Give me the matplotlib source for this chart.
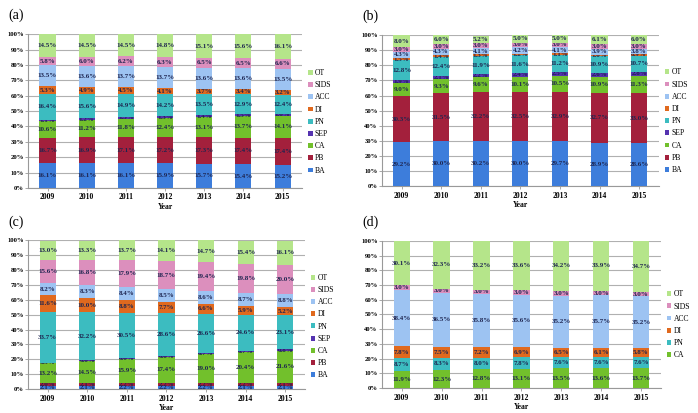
import numpy as np
import matplotlib
matplotlib.use('Agg')
import matplotlib.pyplot as plt
from matplotlib.ticker import FuncFormatter

plt.rcParams['font.family'] = ['Liberation Serif', 'DejaVu Serif']

years = ['2009', '2010', '2011', '2012', '2013', '2014', '2015']

colors = {
    'BA': '#3d7ddb', 'PB': '#a3203c', 'CA': '#72c02c', 'SEP': '#5533b0',
    'PN': '#3cbcc0', 'DI': '#e0691e', 'ACC': '#9dc3f2', 'SIDS': '#dc8fbd',
    'OT': '#b5e58a',
}

# (a)
a_BA = [16.1, 16.1, 16.1, 15.9, 15.7, 15.4, 15.2]
a_PB = [16.7, 16.9, 17.1, 17.2, 17.3, 17.4, 17.4]
a_CA = [10.6, 11.2, 11.8, 12.4, 13.1, 13.7, 14.1]
a_SEP = [1.1, 1.2, 1.3, 1.3, 1.4, 1.5, 1.6]
a_PN = [16.4, 15.6, 14.9, 14.2, 13.5, 12.9, 12.4]
a_DI = [5.3, 4.9, 4.5, 4.1, 3.7, 3.4, 3.2]
a_ACC = [13.5, 13.6, 13.7, 13.7, 13.6, 13.6, 13.5]
a_SIDS = [5.8, 6.0, 6.2, 6.3, 6.5, 6.5, 6.6]
a_OT = [14.5, 14.5, 14.5, 14.8, 15.1, 15.6, 16.1]

# (b)
b_BA = [29.2, 30.0, 30.2, 30.0, 29.7, 28.9, 28.6]
b_PB = [30.3, 31.5, 32.2, 32.5, 32.9, 32.7, 33.0]
b_CA = [9.0, 9.3, 9.6, 10.1, 10.5, 10.9, 11.3]
b_SEP = [1.9, 2.1, 2.2, 2.4, 2.5, 2.6, 2.8]
b_PN = [12.8, 12.4, 11.9, 11.6, 11.2, 10.9, 10.7]
b_DI = [1.5, 1.4, 1.3, 1.2, 1.1, 1.0, 0.9]
b_ACC = [4.3, 4.3, 4.1, 4.2, 4.1, 3.9, 3.8]
b_SIDS = [3.0, 3.0, 3.0, 3.0, 3.0, 3.0, 3.0]
b_OT = [8.0, 6.0, 5.2, 5.0, 5.0, 6.1, 6.0]

# (c)
c_BA = [2.1, 2.1, 2.2, 2.2, 2.2, 2.1, 2.1]
c_PB = [2.0, 2.1, 2.2, 2.2, 2.2, 2.2, 2.1]
c_CA = [13.2, 14.5, 15.9, 17.4, 19.0, 20.4, 21.6]
c_SEP = [0.5, 0.6, 0.6, 0.6, 0.7, 0.7, 0.8]
c_PN = [33.7, 32.2, 30.5, 28.6, 26.6, 24.6, 23.1]
c_DI = [11.6, 10.0, 8.8, 7.7, 6.6, 5.9, 5.2]
c_ACC = [8.2, 8.3, 8.4, 8.5, 8.6, 8.7, 8.8]
c_SIDS = [15.6, 16.8, 17.9, 18.7, 19.4, 19.8, 20.0]
c_OT = [13.0, 13.3, 13.7, 14.1, 14.7, 15.4, 16.1]

# (d)
d_CA = [11.9, 12.3, 12.8, 13.1, 13.5, 13.6, 13.7]
d_PN = [8.7, 8.3, 8.0, 7.8, 7.6, 7.6, 7.6]
d_DI = [7.8, 7.5, 7.2, 6.9, 6.5, 6.1, 5.8]
d_ACC = [38.4, 36.5, 35.8, 35.6, 35.2, 35.7, 35.2]
d_SIDS = [3.0, 3.0, 3.0, 3.0, 3.0, 3.0, 3.0]
d_OT = [30.1, 32.3, 33.2, 33.6, 34.2, 33.9, 34.7]

panels = [
    ('(a)', [0.040, 0.545, 0.393, 0.372], 0.43,
     [('BA', a_BA), ('PB', a_PB), ('CA', a_CA), ('SEP', a_SEP), ('PN', a_PN),
      ('DI', a_DI), ('ACC', a_ACC), ('SIDS', a_SIDS), ('OT', a_OT)]),
    ('(b)', [0.547, 0.549, 0.397, 0.366], 0.43,
     [('BA', b_BA), ('PB', b_PB), ('CA', b_CA), ('SEP', b_SEP), ('PN', b_PN),
      ('DI', b_DI), ('ACC', b_ACC), ('SIDS', b_SIDS), ('OT', b_OT)]),
    ('(c)', [0.040, 0.058, 0.397, 0.360], 0.42,
     [('BA', c_BA), ('PB', c_PB), ('CA', c_CA), ('SEP', c_SEP), ('PN', c_PN),
      ('DI', c_DI), ('ACC', c_ACC), ('SIDS', c_SIDS), ('OT', c_OT)]),
    ('(d)', [0.547, 0.060, 0.400, 0.357], 0.43,
     [('CA', d_CA), ('PN', d_PN), ('DI', d_DI), ('ACC', d_ACC),
      ('SIDS', d_SIDS), ('OT', d_OT)]),
]

fig = plt.figure(figsize=(6.98, 4.13), dpi=100)
fig.patch.set_facecolor('white')

x = np.arange(len(years))
for tag, rect, leg_y, series in panels:
    ax = fig.add_axes(rect)
    bottom = np.zeros(len(years))
    for name, vals in series:
        vals = np.array(vals)
        bars = ax.bar(x, vals, 0.41, bottom=bottom, color=colors[name],
                      label=name, zorder=3)
        ax.bar_label(bars, labels=[f'{v:.1f}%' for v in vals], label_type='center',
                     fontsize=5, fontweight='bold', color='#1e2550')
        bottom += vals

    ax.set_xlim(-0.5, 6.5)
    ax.set_ylim(0, 100)
    ax.set_yticks(np.arange(0, 101, 10))
    ax.yaxis.set_major_formatter(FuncFormatter(lambda v, p: f'{int(v)}%'))
    ax.set_xticks(x)
    ax.set_xticklabels(years)
    ax.grid(axis='y', color='#b0b0b0', linewidth=0.8, zorder=0)
    for s in ['top', 'right']:
        ax.spines[s].set_visible(False)
    for s in ['left', 'bottom']:
        ax.spines[s].set_color('#999999')
        ax.spines[s].set_linewidth(0.8)
    ax.tick_params(axis='y', labelsize=4.8, length=2, width=0.6, color='#999999', pad=1)
    ax.tick_params(axis='x', labelsize=5.5, length=2, width=0.6, color='#999999', pad=2)
    for lab in ax.get_xticklabels() + ax.get_yticklabels():
        lab.set_fontweight('bold')
    ax.set_xlabel('Year', fontsize=5.5, fontweight='bold', labelpad=1)

    handles, labels = ax.get_legend_handles_labels()
    ax.legend(handles[::-1], labels[::-1], loc='center left', bbox_to_anchor=(1.01, leg_y),
              frameon=False, fontsize=5.5, handlelength=0.6, handleheight=0.6,
              handletextpad=0.3, labelspacing=0.55, borderaxespad=0)

    fig.text(rect[0] - 0.028, rect[1] + rect[3] + 0.045, tag, fontsize=10,
             ha='left', va='center')

fig.savefig('out.png', dpi=100)
